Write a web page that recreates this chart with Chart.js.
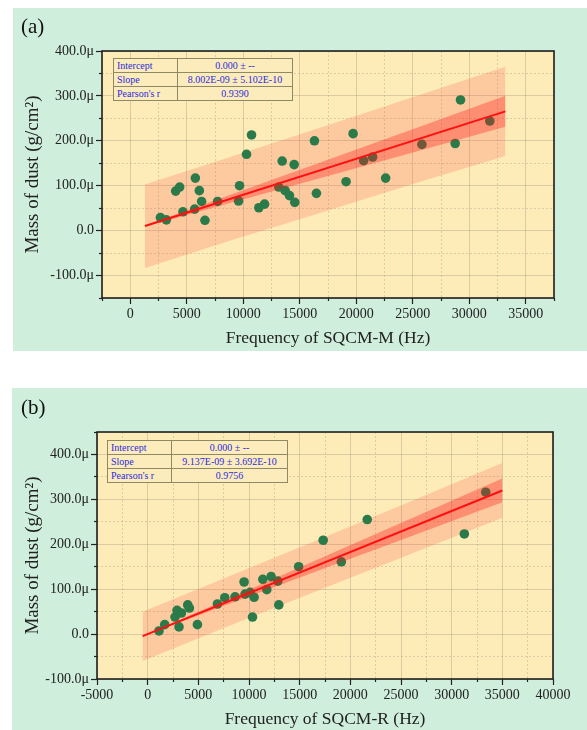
<!DOCTYPE html>
<html><head><meta charset="utf-8">
<script src="https://cdn.jsdelivr.net/npm/chart.js@4.4.1/dist/chart.umd.min.js"></script>
<style>
html,body{margin:0;padding:0;background:#fff;width:587px;height:730px;overflow:hidden;}
.panel{position:absolute;background:#cfeedc;}
canvas{position:absolute;left:0;top:0;}
.tag{position:absolute;font-family:"Liberation Serif",serif;font-size:21px;color:#111;line-height:24px;}
.stats{position:absolute;border-collapse:collapse;font-family:"Liberation Serif",serif;font-size:10px;color:#2b2bdc;background:#fcecbb;border:1.5px solid #8e8a66;}
.stats td{border:1px solid #8e8a66;height:13px;padding:0 3px;line-height:12px;white-space:nowrap;}
.stats td.v{text-align:center;}
</style></head><body>
<div class="panel" style="left:13px;top:8px;width:574px;height:343px;">
  <canvas id="ca" width="574" height="343"></canvas>
  <div class="tag" style="left:8px;top:6px;">(a)</div>
  <table class="stats" id="ta" style="left:100px;top:50px;width:180px;"></table>
</div>
<div class="panel" style="left:12px;top:388px;width:575px;height:342px;">
  <canvas id="cb" width="575" height="342"></canvas>
  <div class="tag" style="left:9px;top:7px;">(b)</div>
  <table class="stats" id="tb" style="left:95px;top:52px;width:181px;"></table>
</div>
<script>
// ---------- data (mass in µ = 1e-6 g/cm²) ----------
const freqA = [2668,3198,4020,4373,4664,5760,6113,5698,6316,6610,7730,9585,9673,10290,10733,11380,11882,13145,13445,13710,14090,14505,14560,16300,16475,19100,19720,20655,21450,22600,25810,28755,29225,31820];
const massA = [29,24,88,97,42,117,89,48,65,23,65,66,100,170,213,51,59,97,155,89,78,147,63,200,83,109,216,156,164,117,192,194,291,244];
const freqB = [1117,1680,2700,2898,3330,3095,3952,4120,4910,6886,7608,8626,9515,9613,10107,10344,10502,11362,11757,12182,12844,12943,14900,17320,19110,21670,31250,33365];
const massB = [7,21,38,53,47,16,65,58,21,67,81,83,116,89,93,38,82,122,99,128,118,65,150,209,161,255,223,316];

const slopeA = 8.002e-9, slopeB = 9.137e-9;
const fitXA = [1300, 33200];
const fitXB = [-500, 35000];

const bandXA   = [1300, 9000, 17000, 25000, 33200];
const confUpA  = [11.7, 81.3, 153.6, 226.0, 300.1];
const confLoA  = [9.1, 62.7, 118.4, 174.2, 231.3];
const predUpA  = [103, 165, 231, 297, 365];
const predLoA  = [-83, -21, 41, 104, 166];

const bandXB   = [-500, 8000, 17000, 26000, 35000];
const confUpB  = [-4.2, 79.1, 168.1, 257.2, 346.2];
const confLoB  = [-5.0, 67.1, 142.5, 218.0, 293.4];
const predUpB  = [50, 128, 212, 296, 381];
const predLoB  = [-60, 18, 99, 179, 259];

const xTicksA = [0,5000,10000,15000,20000,25000,30000,35000];
const xTicksB = [-5000,0,5000,10000,15000,20000,25000,30000,35000,40000];
const yTicks  = [-100,0,100,200,300,400];

const statLabels = ['Intercept','Slope',"Pearson's r"];
const statValuesA = ['0.000 ± --','8.002E-09 ± 5.102E-10','0.9390'];
const statValuesB = ['0.000 ± --','9.137E-09 ± 3.692E-10','0.9756'];

// ---------- helpers ----------
function fillTable(id, vals){
  const t = document.getElementById(id);
  t.innerHTML = statLabels.map((l,i)=>`<tr><td style="width:57px">${l}</td><td class="v">${vals[i]}</td></tr>`).join('');
}
fillTable('ta', statValuesA); fillTable('tb', statValuesB);

const pts = (xs, ys) => xs.map((x,i)=>({x, y: ys[i]}));

const framePlugin = {
  id:'frame',
  beforeDraw(chart){
    const {ctx, chartArea:a} = chart;
    ctx.save(); ctx.fillStyle = '#fdebb8';
    ctx.fillRect(a.left, a.top, a.right-a.left, a.bottom-a.top); ctx.restore();
  },
  afterDraw(chart){
    const {ctx, chartArea:a} = chart;
    ctx.save(); ctx.strokeStyle = '#1e1e1e'; ctx.lineWidth = 1.6;
    ctx.strokeRect(a.left, a.top, a.right-a.left, a.bottom-a.top); ctx.restore();
  }
};

const serif = 'Liberation Serif';
const majorGrid = 'rgba(175,165,135,0.45)';
const minorGrid = 'rgba(175,165,135,0.45)';

function build(cfg){
  const ctx = document.getElementById(cfg.canvas).getContext('2d');
  const slopeMu = cfg.slope * 1e6;
  const fitY = cfg.fitX.map(x => slopeMu * x);
  const axisFont = {family: serif, size: 14};
  new Chart(ctx, {
    type: 'scatter',
    data: { datasets: [
      { type:'scatter', data: pts(cfg.freq, cfg.mass), backgroundColor:'#2a7a4a', borderWidth:0, pointRadius:4.8, order:7, xAxisID:'x', yAxisID:'y' },
      { type:'line', data: pts(cfg.bandX, cfg.predUp), borderWidth:0, pointRadius:0, fill:'+1', backgroundColor:'rgba(255,90,75,0.24)', order:8, xAxisID:'x', yAxisID:'y', tension:0 },
      { type:'line', data: pts(cfg.bandX, cfg.predLo), borderWidth:0, pointRadius:0, fill:false, order:8, xAxisID:'x', yAxisID:'y', tension:0 },
      { type:'line', data: pts(cfg.bandX, cfg.confUp), borderWidth:0, pointRadius:0, fill:'+1', backgroundColor:'rgba(255,20,20,0.32)', order:6, xAxisID:'x', yAxisID:'y', tension:0 },
      { type:'line', data: pts(cfg.bandX, cfg.confLo), borderWidth:0, pointRadius:0, fill:false, order:6, xAxisID:'x', yAxisID:'y', tension:0 },
      { type:'line', data: pts(cfg.fitX, fitY), borderColor:'#ff1010', borderWidth:2, pointRadius:0, fill:false, order:1, xAxisID:'x', yAxisID:'y', tension:0 }
    ]},
    options: {
      responsive:false, animation:false, devicePixelRatio:1,
      layout:{ padding:{ top:cfg.top, right:cfg.right, left:0, bottom:0 } },
      plugins:{ legend:{display:false}, tooltip:{enabled:false} },
      scales:{
        x:{ type:'linear', axis:'x', position:'bottom', min:cfg.xmin, max:cfg.xmax, weight:5,
            afterBuildTicks: s => { s.ticks = cfg.xTicks.map(v=>({value:v})); },
            afterFit: s => { s.height = cfg.xh; },
            ticks:{ font:axisFont, color:'#222', padding:2, maxRotation:0, autoSkip:false, callback: v => String(v) },
            grid:{ color:majorGrid, lineWidth:1, tickColor:'#222', tickLength:6, tickWidth:1.2 },
            border:{ display:false },
            title:{ display:true, text:cfg.xTitle, font:{family:serif, size:17.5}, color:'#222', padding:{top:0,bottom:cfg.xtPad} } },
        xm:{ type:'linear', axis:'x', position:'bottom', min:cfg.xmin, max:cfg.xmax, weight:0,
            afterFit: s => { s.height = 0; },
            ticks:{ display:false, stepSize:2500 },
            grid:{ color: c => (c.tick && c.tick.value % 5000 === 0) ? 'rgba(0,0,0,0)' : minorGrid,
                   tickColor: c => (c.tick && c.tick.value % 5000 === 0) ? 'rgba(0,0,0,0)' : '#222',
                   lineWidth:1, tickLength:3, tickWidth:1.2 },
            border:{ display:false, dash:[2,2] } },
        y:{ type:'linear', axis:'y', position:'left', min:cfg.ymin, max:cfg.ymax, weight:5,
            afterBuildTicks: s => { s.ticks = yTicks.map(v=>({value:v})); },
            afterFit: s => { s.width = cfg.yw; },
            ticks:{ font:axisFont, color:'#222', padding:2, callback: v => v === 0 ? '0.0' : v.toFixed(1) + 'μ' },
            grid:{ color:majorGrid, lineWidth:1, tickColor:'#222', tickLength:6, tickWidth:1.2 },
            border:{ display:false },
            title:{ display:true, text:'Mass of dust (g/cm²)', font:{family:serif, size:19}, color:'#222', padding:{top:cfg.ytPad,bottom:0} } },
        ym:{ type:'linear', axis:'y', position:'left', min:cfg.ymin, max:cfg.ymax, weight:0,
            afterFit: s => { s.width = 0; },
            ticks:{ display:false, stepSize:50 },
            grid:{ color: c => (c.tick && c.tick.value % 100 === 0) ? 'rgba(0,0,0,0)' : minorGrid,
                   tickColor: c => (c.tick && c.tick.value % 100 === 0) ? 'rgba(0,0,0,0)' : '#222',
                   lineWidth:1, tickLength:3, tickWidth:1.2 },
            border:{ display:false, dash:[2,2] } }
      }
    },
    plugins:[framePlugin]
  });
}

build({ canvas:'ca', freq:freqA, mass:massA, slope:slopeA, fitX:fitXA, bandX:bandXA,
        predUp:predUpA, predLo:predLoA, confUp:confUpA, confLo:confLoA,
        xmin:-2500, xmax:37500, ymin:-150, ymax:400, xTicks:xTicksA,
        top:43, right:33, xh:53, yw:89, xtPad:2, ytPad:9, xTitle:'Frequency of SQCM-M (Hz)' });
build({ canvas:'cb', freq:freqB, mass:massB, slope:slopeB, fitX:fitXB, bandX:bandXB,
        predUp:predUpB, predLo:predLoB, confUp:confUpB, confLo:confLoB,
        xmin:-5000, xmax:40000, ymin:-100, ymax:450, xTicks:xTicksB,
        top:44, right:34, xh:51, yw:85, xtPad:0, ytPad:10, xTitle:'Frequency of SQCM-R (Hz)' });
</script>
</body></html>
